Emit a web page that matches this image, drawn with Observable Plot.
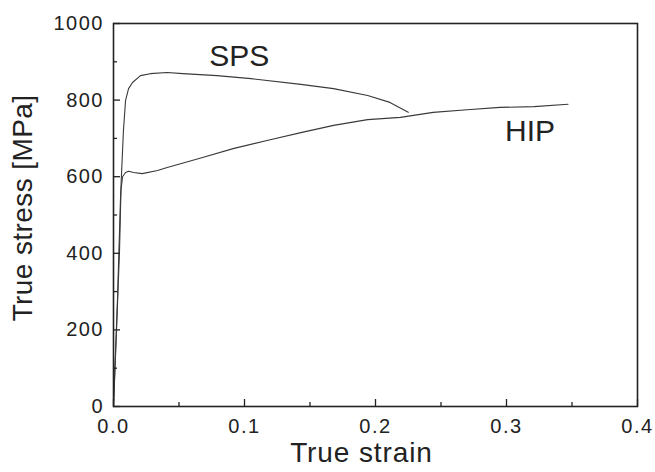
<!DOCTYPE html>
<html>
<head>
<meta charset="utf-8">
<script src="https://cdn.jsdelivr.net/npm/d3@7"></script>
<script src="https://cdn.jsdelivr.net/npm/@observablehq/plot@0.6"></script>
<style>
  html, body { margin: 0; padding: 0; background: #fff; }
  #chart svg { display: block; }
</style>
</head>
<body>
<div id="chart"></div>
<script>
// SPS curve (true strain, true stress MPa)
const spsStrain = [0, 0.003, 0.0053, 0.006, 0.0069, 0.0076, 0.0092, 0.0115, 0.0145, 0.0206, 0.028, 0.041, 0.053, 0.079, 0.105, 0.143, 0.168, 0.194, 0.211, 0.225];
const spsStress = [0, 277, 538, 598, 668, 721, 799, 830, 846, 864, 869, 872, 869, 864, 856, 841, 830, 812, 794, 768];
// HIP curve
const hipStrain = [0, 0.0023, 0.0046, 0.0057, 0.0069, 0.0092, 0.0115, 0.0153, 0.022, 0.0336, 0.041, 0.066, 0.092, 0.118, 0.143, 0.168, 0.194, 0.219, 0.244, 0.270, 0.295, 0.321, 0.347];
const hipStress = [0, 198, 407, 564, 600, 611, 614, 611, 608, 616, 624, 648, 674, 695, 715, 734, 749, 755, 768, 775, 781, 783, 789];

const xMajor = [0, 0.1, 0.2, 0.3, 0.4];
const xMinor = [0.05, 0.15, 0.25, 0.35];
const yMajor = [0, 200, 400, 600, 800, 1000];
const yMinor = [100, 300, 500, 700, 900];

const curveLabels = ["SPS", "HIP"];
const curveLabelStrain = [0.096, 0.318];
const curveLabelStress = [914, 718];

const xTitle = "True strain";
const yTitle = "True stress [MPa]";

const sps = spsStrain.map((x, i) => ({x, y: spsStress[i]}));
const hip = hipStrain.map((x, i) => ({x, y: hipStress[i]}));
const labels = curveLabels.map((t, i) => ({t, x: curveLabelStrain[i], y: curveLabelStress[i]}));

const W = 655, H = 472;
const mTop = 23, mBottom = 66, mLeft = 113, mRight = 18;
const plotH = H - mTop - mBottom;
const plotW = W - mLeft - mRight;
const ink = "#222";
const font = "'Liberation Sans', Arial, Helvetica, sans-serif";

const chart = Plot.plot({
  width: W,
  height: H,
  marginTop: mTop,
  marginBottom: mBottom,
  marginLeft: mLeft,
  marginRight: mRight,
  style: {fontFamily: font, color: ink, background: "#fff"},
  x: {domain: [0, 0.4]},
  y: {domain: [0, 1000]},
  marks: [
    // curves
    Plot.line(sps, {x: "x", y: "y", stroke: "#3a3a3a", strokeWidth: 1.1}),
    Plot.line(hip, {x: "x", y: "y", stroke: "#3a3a3a", strokeWidth: 1.1}),
    // inward ticks
    Plot.tickX(xMajor, {x: d => d, stroke: ink, strokeWidth: 1.3, insetTop: plotH - 7}),
    Plot.tickX(xMinor, {x: d => d, stroke: ink, strokeWidth: 1.3, insetTop: plotH - 4}),
    Plot.tickY(yMajor, {y: d => d, stroke: ink, strokeWidth: 1.3, insetRight: plotW - 7}),
    Plot.tickY(yMinor, {y: d => d, stroke: ink, strokeWidth: 1.3, insetRight: plotW - 4}),
    // tick labels
    Plot.axisX({ticks: xMajor, tickSize: 0, tickPadding: 12, tickFormat: d3.format(".1f"), fontSize: 20, label: null, color: ink}),
    Plot.axisY({ticks: yMajor, tickSize: 0, tickPadding: 9.5, tickFormat: d => String(d), fontSize: 20, label: null, color: ink}),
    // frame
    Plot.frame({stroke: ink, strokeWidth: 1.6}),
    // curve labels
    Plot.text(labels, {x: "x", y: "y", text: "t", fontSize: 30, fill: ink, lineAnchor: "middle"}),
    // axis titles
    Plot.text([xTitle], {frameAnchor: "bottom", text: d => d, textAnchor: "middle", dx: -14, dy: 36, lineAnchor: "top", fontSize: 28, fill: ink}),
    Plot.text([yTitle], {frameAnchor: "left", text: d => d, textAnchor: "middle", rotate: -90, dx: -82, dy: -7, lineAnchor: "bottom", fontSize: 28, fill: ink})
  ]
});
// slightly wider letterforms, as in the reference
d3.select(chart).selectAll('[aria-label="x-axis tick label"] text, [aria-label="y-axis tick label"] text').attr("letter-spacing", "1.5px");
d3.select(chart).selectAll("text").filter(function() { return this.textContent === xTitle; }).attr("letter-spacing", "0.9px");
d3.select(chart).selectAll("text").filter(function() { return this.textContent === yTitle; }).attr("letter-spacing", "0.4px");
document.getElementById("chart").appendChild(chart);
</script>
</body>
</html>
